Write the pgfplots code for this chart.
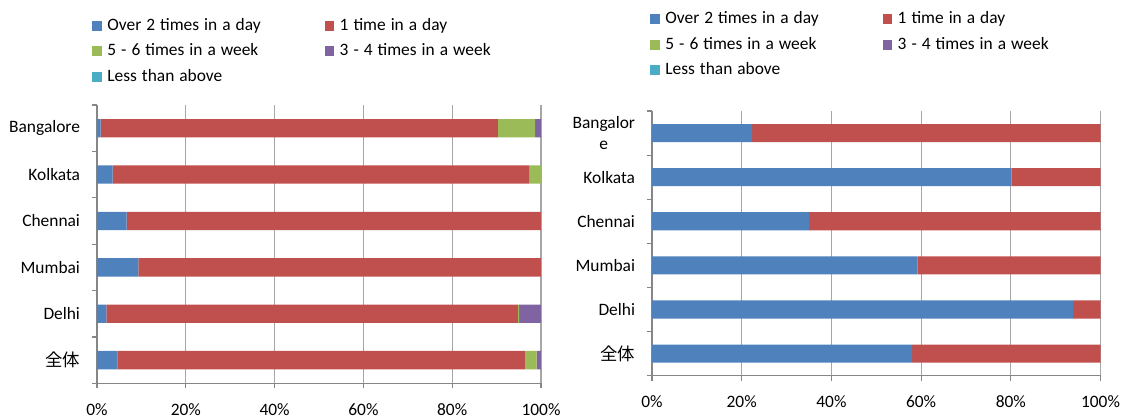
\documentclass[border=0pt]{standalone}
\usepackage{pgfplots}
\pgfplotsset{compat=1.18}
\usepackage{fontspec}
\setmainfont{Carlito}
\newfontfamily\cjk{Noto Sans CJK JP}

\definecolor{cBlue}{HTML}{4F81BD}
\definecolor{cRed}{HTML}{C0504D}
\definecolor{cGreen}{HTML}{9BBB59}
\definecolor{cPurple}{HTML}{8064A2}
\definecolor{cTeal}{HTML}{4BACC6}
\definecolor{axisgray}{HTML}{868686}
\definecolor{gridgray}{HTML}{A6A6A6}

% legend text: same size, slightly wider word spacing
\protected\def\legfont{\fontsize{8.7}{10.3}\selectfont\spaceskip=2.5pt\relax}

% category order from bottom: 0 = overall, 1 = Delhi, 2 = Mumbai, 3 = Chennai, 4 = Kolkata, 5 = Bangalore
\pgfplotstableread{
pos blue red  green purple teal
0   4.6  91.9 2.5   1.0    0
1   2.1  92.7 0.3   4.9    0
2   9.3  90.7 0     0      0
3   6.7  93.3 0     0      0
4   3.5  93.8 2.7   0      0
5   0.8  89.5 8.4   1.3    0
}\freqA

\pgfplotstableread{
pos blue red  green purple teal
0   58.0 42.0 0     0      0
1   93.9 6.1  0     0      0
2   59.2 40.8 0     0      0
3   35.0 65.0 0     0      0
4   80.2 19.8 0     0      0
5   22.3 77.7 0     0      0
}\freqB

\pgfplotsset{
  sw/.style={fill=#1, draw=none,
    legend image code/.code={\fill[fill=#1] (0pt,-2.5pt) rectangle (4.7pt,2.5pt);}},
  panel/.style={
    scale only axis,
    anchor=south west,
    xbar stacked,
    xmin=0, xmax=100,
    ymin=-0.5, ymax=5.5,
    xtick={0,20,...,100},
    xticklabel={\pgfmathprintnumber{\tick}\%},
    ytick={0,...,5},
    minor ytick={-0.5,0.5,...,5.5},
    axis x line*=bottom, axis y line*=left,
    axis line style={draw=axisgray, line width=0.6pt, -},
    xmajorgrids,
    grid style={gridgray, line width=0.6pt},
    tick align=outside,
    major tick length=2.5pt, minor tick length=2.5pt,
    tick style={axisgray, line width=0.6pt},
    major y tick style={draw=none},
    font=\fontsize{8.7}{10.3}\selectfont,
    /pgf/number format/assume math mode=true,
    x tick label style={inner sep=0pt, yshift=-7.4pt},
    y tick label style={inner sep=0pt, xshift=-5.8pt, align=center},
    legend columns=2,
    legend cell align=left,
    legend style={draw=none, fill=none, inner sep=0pt, anchor=north west,
      row sep=4.1pt,
      font=\legfont,
      nodes={inner sep=0pt, text height=6.5pt, text depth=2pt},
      /tikz/every odd column/.append style={column sep=2.8pt},
      /tikz/every even column/.append style={column sep=32pt}},
  },
}

\begin{document}
\begin{tikzpicture}
\useasboundingbox (0pt,0pt) rectangle (562.5pt,209pt);

% left panel: all five frequency classes
\begin{axis}[panel,
  at={(48.5pt,17.35pt)}, width=222pt, height=139.15pt,
  bar width=0.395,
  yticklabels={{\cjk 全体},Delhi,Mumbai,Chennai,Kolkata,Bangalore},
  legend style={at={(-0.0113,1.3155)}}]
\addplot[sw=cBlue]   table[x=blue,   y=pos] {\freqA};
\addplot[sw=cRed]    table[x=red,    y=pos] {\freqA};
\addplot[sw=cGreen]  table[x=green,  y=pos] {\freqA};
\addplot[sw=cPurple] table[x=purple, y=pos] {\freqA};
\addplot[sw=cTeal]   table[x=teal,   y=pos] {\freqA};
\legend{Over 2 times in a day, 1 time in a day, 5 - 6 times in a week, 3 - 4 times in a week, Less than above}
\end{axis}

% right panel
\begin{axis}[panel,
  at={(326pt,21.15pt)}, width=224.25pt, height=132.35pt,
  bar width=0.41,
  yticklabels={{\cjk 全体},Delhi,Mumbai,Chennai,Kolkata,{Bangalor\\e}},
  legend style={at={(-0.0045,1.3797)}}]
\addplot[sw=cBlue]   table[x=blue,   y=pos] {\freqB};
\addplot[sw=cRed]    table[x=red,    y=pos] {\freqB};
\addplot[sw=cGreen]  table[x=green,  y=pos] {\freqB};
\addplot[sw=cPurple] table[x=purple, y=pos] {\freqB};
\addplot[sw=cTeal]   table[x=teal,   y=pos] {\freqB};
\legend{Over 2 times in a day, 1 time in a day, 5 - 6 times in a week, 3 - 4 times in a week, Less than above}
\end{axis}
\end{tikzpicture}
\end{document}
